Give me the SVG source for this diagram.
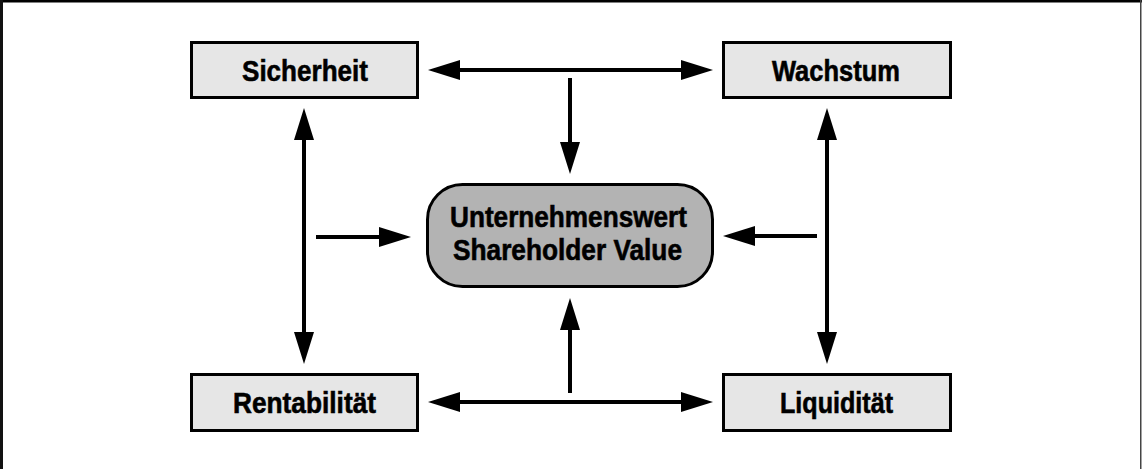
<svg xmlns="http://www.w3.org/2000/svg" width="1142" height="469" viewBox="0 0 1142 469">
<style>
.box{fill:#e6e6e6;stroke:#000;stroke-width:3}
.core{fill:#b3b3b3;stroke:#000;stroke-width:3}
.lbl{font-family:"Liberation Sans Narrow","Liberation Sans",Arial,sans-serif;font-weight:bold;font-size:30px;fill:#000;stroke:#000;stroke-width:0.6;text-anchor:middle}
.clbl{font-size:29px}
.arr{stroke:#000;stroke-width:4;fill:none}
.one{marker-end:url(#ah)}
.two{marker-start:url(#ah);marker-end:url(#ah)}
</style>
<defs>
<marker id="ah" markerUnits="userSpaceOnUse" markerWidth="32" markerHeight="20" viewBox="0 0 32 20" refX="22" refY="10" orient="auto-start-reverse">
<path d="M0,0 L32,10 L0,20 Z" fill="#000"/>
</marker>
</defs>
<rect x="0" y="0" width="1142" height="469" fill="#fff"/>
<g id="frame">
<rect x="0" y="0" width="1142" height="2.5" fill="#000"/>
<rect x="0" y="0" width="3" height="469" fill="#111"/>
<rect x="1140" y="0" width="1.5" height="469" fill="#444"/>
</g>
<g id="connectors">
<line class="arr two" x1="438" y1="70" x2="703" y2="70"/>
<line class="arr one" x1="570" y1="78" x2="570" y2="164"/>
<line class="arr two" x1="304" y1="118" x2="304" y2="354"/>
<line class="arr two" x1="827" y1="118" x2="827" y2="354"/>
<line class="arr one" x1="316" y1="237" x2="401" y2="237"/>
<line class="arr one" x1="817" y1="236" x2="733" y2="236"/>
<line class="arr one" x1="570" y1="393" x2="570" y2="308"/>
<line class="arr two" x1="438" y1="402" x2="703" y2="402"/>
</g>
<g id="sicherheit">
<rect class="box" x="191.5" y="42.5" width="226" height="55"/>
<text class="lbl" x="305" y="80.5" textLength="126" lengthAdjust="spacingAndGlyphs">Sicherheit</text>
</g>
<g id="wachstum">
<rect class="box" x="723.5" y="42.5" width="227" height="55"/>
<text class="lbl" x="836" y="80.5" textLength="128" lengthAdjust="spacingAndGlyphs">Wachstum</text>
</g>
<g id="rentabilitaet">
<rect class="box" x="191.5" y="374.5" width="226" height="56"/>
<text class="lbl" x="304.5" y="413" textLength="143" lengthAdjust="spacingAndGlyphs">Rentabilität</text>
</g>
<g id="liquiditaet">
<rect class="box" x="723.5" y="374.5" width="227" height="56"/>
<text class="lbl" x="836.5" y="413" textLength="113" lengthAdjust="spacingAndGlyphs">Liquidität</text>
</g>
<g id="unternehmenswert">
<rect class="core" x="427.5" y="184.5" width="285" height="102" rx="35" ry="35"/>
<text class="lbl clbl" x="568.5" y="227" textLength="237" lengthAdjust="spacingAndGlyphs">Unternehmenswert</text>
<text class="lbl clbl" x="567.5" y="259.5" textLength="229" lengthAdjust="spacingAndGlyphs">Shareholder Value</text>
</g>
</svg>
